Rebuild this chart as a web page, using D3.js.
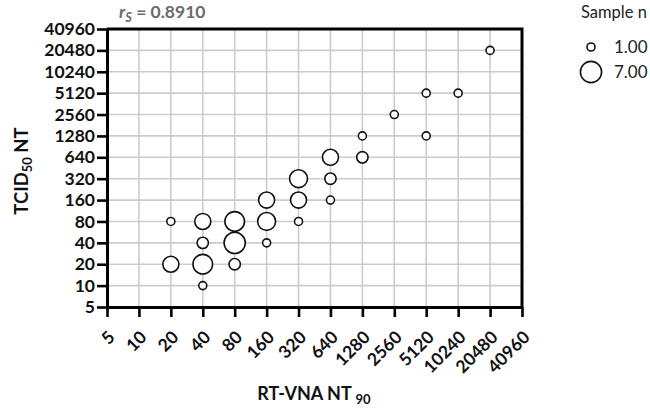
<!DOCTYPE html>
<html lang="en">
	<head>
		<meta charset="utf-8">
		<title>RT-VNA vs TCID50</title>
		<script type="text/javascript" src="https://cdn.jsdelivr.net/npm/d3@7"></script>
		<style type="text/css">
			body {
				margin: 0px;
				background: white;
			}
			text {
				font-family: Lato, "Open Sans", sans-serif;
			}
		</style>
	</head>
	<body>
		<div id="chart"></div>
		<script type="text/javascript">
		//Data
			var xTicks = [5, 10, 20, 40, 80, 160, 320, 640, 1280, 2560, 5120, 10240, 20480, 40960];
			var yTicks = [5, 10, 20, 40, 80, 160, 320, 640, 1280, 2560, 5120, 10240, 20480, 40960];

			var rtVna  = [20, 20, 40, 40, 40, 40, 80, 80, 80, 160, 160, 160, 320, 320, 320, 640, 640, 640, 1280, 1280, 2560, 5120, 5120, 10240, 20480];
			var tcid50 = [80, 20, 80, 40, 20, 10, 80, 40, 20, 160, 80, 40, 320, 160, 80, 640, 320, 160, 1280, 640, 2560, 5120, 1280, 5120, 20480];
			var sampleN = [1, 4, 4, 2, 6, 1, 6, 7, 2, 4, 5, 1, 5, 4, 1, 4, 2, 1, 1, 2, 1, 1, 1, 1, 1];

			var legendN = [1, 7];
			var rS = "0.8910";

		//Setup
			var w = 650;
			var h = 410;

			var svg = d3.select("#chart")
				.append("svg")
				.attr("width", w)
				.attr("height", h);

			var x = d3.scaleLog().base(2)
				.domain([5, 40960])
				.range([107, 522]);

			var y = d3.scaleLog().base(2)
				.domain([5, 40960])
				.range([307, 29]);

			var r = d3.scaleSqrt()
				.domain([0, 7])
				.range([0, 10.6]);

			var points = rtVna.map(function(d, i) {
				return {x: d, y: tcid50[i], n: sampleN[i]};
			});

		//Grid
			svg.append("g")
				.selectAll("line")
				.data(xTicks)
				.enter()
				.append("line")
				.attr("x1", function(d) { return x(d); })
				.attr("x2", function(d) { return x(d); })
				.attr("y1", y(5))
				.attr("y2", y(40960))
				.attr("stroke", "#cccccc")
				.attr("stroke-width", 1.6);

			svg.append("g")
				.selectAll("line")
				.data(yTicks)
				.enter()
				.append("line")
				.attr("x1", x(5))
				.attr("x2", x(40960))
				.attr("y1", function(d) { return y(d); })
				.attr("y2", function(d) { return y(d); })
				.attr("stroke", "#cccccc")
				.attr("stroke-width", 1.6);

		//Top and right frame
			svg.append("path")
				.attr("d", "M" + x(5) + "," + y(40960) + "H" + x(40960) + "V" + y(5))
				.attr("fill", "none")
				.attr("stroke", "black")
				.attr("stroke-width", 3);

		//Axes
			var xAxis = svg.append("g")
				.attr("transform", "translate(0," + y(5) + ")")
				.call(d3.axisBottom(x)
					.tickValues(xTicks)
					.tickFormat(function(d) { return d; })
					.tickSize(10)
					.tickSizeOuter(0));

			xAxis.selectAll("text")
				.attr("y", 0)
				.attr("dy", "0.35em")
				.attr("text-anchor", "end")
				.attr("transform", "translate(4,27) rotate(-45)");

			var yAxis = svg.append("g")
				.attr("transform", "translate(" + x(5) + ",0)")
				.call(d3.axisLeft(y)
					.tickValues(yTicks)
					.tickFormat(function(d) { return d; })
					.tickSize(10)
					.tickSizeOuter(0));

			yAxis.selectAll("text").attr("x", -12);

			svg.selectAll(".domain")
				.attr("stroke", "black")
				.attr("stroke-width", 3);

			svg.selectAll(".tick line")
				.attr("stroke", "black")
				.attr("stroke-width", 2.6);

			svg.selectAll(".tick text")
				.attr("font-family", "Lato, sans-serif")
				.attr("font-size", "17.5px")
				.attr("font-weight", "bold")
				.attr("fill", "#111");

		//Bubbles
			svg.append("g")
				.selectAll("circle")
				.data(points)
				.enter()
				.append("circle")
				.attr("cx", function(d) { return x(d.x); })
				.attr("cy", function(d) { return y(d.y); })
				.attr("r", function(d) { return r(d.n); })
				.attr("fill", "white")
				.attr("stroke", "#111")
				.attr("stroke-width", 1.6);

		//Axis titles
			var xTitle = svg.append("text")
				.attr("x", 314)
				.attr("y", 400)
				.attr("text-anchor", "middle")
				.attr("font-size", "18px")
				.attr("font-weight", "bold")
				.attr("fill", "#111");
			xTitle.append("tspan").text("RT-VNA NT ");
			xTitle.append("tspan")
				.attr("font-size", "13px")
				.attr("dy", 4)
				.text("90");

			var yTitle = svg.append("text")
				.attr("transform", "translate(28,171) rotate(-90)")
				.attr("text-anchor", "middle")
				.attr("font-size", "18.5px")
				.attr("font-weight", "bold")
				.attr("fill", "#111");
			yTitle.append("tspan").text("TCID");
			yTitle.append("tspan")
				.attr("font-size", "13px")
				.attr("dy", 4)
				.text("50");
			yTitle.append("tspan")
				.attr("dy", -4)
				.text(" NT");

		//Correlation label
			var corr = svg.append("text")
				.attr("x", 119)
				.attr("y", 18)
				.attr("font-size", "17.5px")
				.attr("font-weight", "bold")
				.attr("fill", "#6b6b6b");
			corr.append("tspan")
				.attr("font-style", "italic")
				.text("r");
			corr.append("tspan")
				.attr("font-style", "italic")
				.attr("font-size", "13px")
				.attr("dy", 4)
				.text("S");
			corr.append("tspan")
				.attr("dy", -4)
				.text("  = " + rS);

		//Legend
			svg.append("text")
				.attr("x", 581)
				.attr("y", 18)
				.attr("font-size", "16.5px")
				.attr("fill", "#222")
				.text("Sample n");

			var legend = svg.selectAll(".legend")
				.data(legendN)
				.enter()
				.append("g")
				.attr("class", "legend")
				.attr("transform", function(d, i) { return "translate(591," + (47 + i * 25) + ")"; });

			legend.append("circle")
				.attr("r", function(d) { return r(d); })
				.attr("fill", "white")
				.attr("stroke", "#111")
				.attr("stroke-width", 1.6);

			legend.append("text")
				.attr("x", 23)
				.attr("dy", "0.35em")
				.attr("font-size", "17px")
				.attr("fill", "#222")
				.text(function(d) { return d.toFixed(2); });
		</script>
	</body>
</html>
